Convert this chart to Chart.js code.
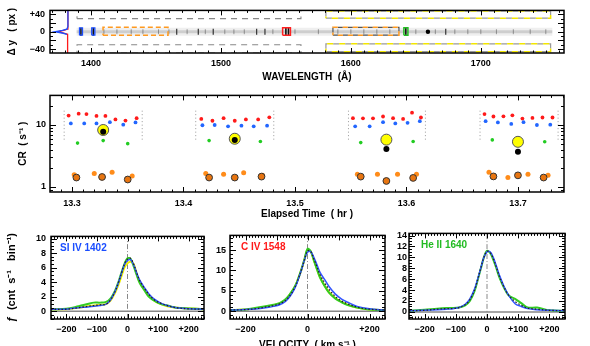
<!DOCTYPE html>
<html>
<head>
<meta charset="utf-8">
<script src="https://cdn.jsdelivr.net/npm/chart.js@4.4.1/dist/chart.umd.min.js"></script>
<style>
  html, body { margin: 0; padding: 0; background: #fff; overflow: hidden; }
  body { width: 590px; height: 346px; position: relative; }
  canvas { position: absolute; }
</style>
</head>
<body>
<canvas id="spec" width="590" height="86" style="left:0;top:0"></canvas>
<canvas id="lc" width="590" height="134" style="left:0;top:86px"></canvas>
<canvas id="p1" width="210" height="128" style="left:0;top:226px"></canvas>
<canvas id="p2" width="180" height="128" style="left:210px;top:226px"></canvas>
<canvas id="p3" width="200" height="128" style="left:390px;top:226px"></canvas>
<script>
// ---------- top panel: 2D spectrum (Δy vs wavelength)
const wlRange = [1368.5, 1764];
const dyRange = [-49, 49];
const wlTicks = [1400, 1500, 1600, 1700];
const dyTicks = [-40, 0, 40];
const bandWl = [1389, 1755];
const lineWlDark = [1392.3, 1401.8, 1550, 1552, 1642.3];
const lineWlMid = [1466, 1482.6, 1494.1, 1527.5, 1533.9, 1673];
const lineWlFaint = [1410, 1420, 1431, 1440, 1452, 1460, 1474, 1488, 1503, 1510, 1518, 1540, 1557, 1575, 1590, 1600, 1610, 1620, 1630, 1650, 1665, 1680, 1690, 1700, 1712, 1725, 1738, 1750];
const blobWl = [1659.3];
const profDy = [-49, -12, -6, -3, 0, 3, 6, 12, 49];
const profBlueWl = [1382.3, 1382.3, 1381.5, 1378, 1372.3, 1378, 1381.5, 1382.3, 1382.3];
const profRedWl = [1382.3, 1382.3, 1381.8, 1379, 1374.7, 1379, 1381.8, 1382.3, 1382.3];
// windows: [wl lo, wl hi, dy lo, dy hi]
const winSi1 = [1391.2, 1393.5, -8, 9];
const winSi2 = [1400.6, 1403.0, -8, 9];
const winCont1 = [1409.3, 1459.3, -8, 10];
const winC4 = [1547.5, 1553.5, -8, 9];
const winCont2 = [1586.2, 1637, -8, 10];
const winHe2 = [1640.8, 1643.9, -8, 9];
const bkgA = [1389.3, 1561.6, 30, 49];
const bkgALow = [1389.3, 1561.6, -49, -30];
const bkgB = [1580.8, 1753.7, 31, 47.5];
const bkgBLow = [1580.8, 1753.7, -46, -28];

// ---------- middle panel: count rate vs elapsed time
const timeRange = [13.2803, 13.7413];
const timeTicks = [13.3, 13.4, 13.5, 13.6, 13.7];
const crRange = [0.83, 30];
const crTicks = [1, 10];
const redT = [13.297, 13.306, 13.313, 13.322, 13.330, 13.339, 13.348, 13.358, 13.416, 13.426, 13.436, 13.446, 13.456, 13.467, 13.477, 13.552, 13.561, 13.570, 13.579, 13.588, 13.597, 13.605, 13.613, 13.670, 13.678, 13.687, 13.695, 13.704, 13.713, 13.722, 13.731];
const redCR = [14.2, 15.2, 15.0, 14.0, 14.0, 12.3, 11.8, 12.9, 12.5, 11.7, 12.9, 11.7, 12.3, 12.3, 13.3, 12.9, 12.8, 12.8, 13.7, 12.9, 12.5, 15.8, 13.2, 15.0, 13.7, 13.8, 14.3, 12.7, 13.0, 13.2, 13.2];
const blueT = [13.299, 13.311, 13.322, 13.334, 13.346, 13.357, 13.417, 13.428, 13.440, 13.452, 13.463, 13.475, 13.554, 13.567, 13.579, 13.590, 13.601, 13.612, 13.671, 13.682, 13.694, 13.705, 13.717, 13.729];
const blueCR = [10.6, 10.6, 10.6, 11.1, 10.1, 11.0, 9.9, 10.0, 9.5, 9.75, 9.5, 9.75, 9.5, 9.5, 11.1, 10.6, 10.85, 11.5, 11.5, 11.0, 10.4, 11.1, 10.0, 10.1];
const greenT = [13.305, 13.328, 13.350, 13.423, 13.469, 13.559, 13.606, 13.677, 13.724];
const greenCR = [5.1, 5.6, 5.0, 5.6, 5.4, 5.2, 5.4, 5.75, 5.35];
const yellowT = [13.328, 13.446, 13.582, 13.700];
const yellowCR = [8.3, 6.0, 5.8, 5.35];
const blackT = [13.328, 13.446, 13.582, 13.700];
const blackCR = [7.8, 5.75, 4.1, 3.7];
const orangeT = [13.302, 13.320, 13.336, 13.354, 13.420, 13.436, 13.454, 13.471, 13.556, 13.574, 13.592, 13.609, 13.674, 13.691, 13.709, 13.727];
const orangeCR = [1.58, 1.65, 1.73, 1.50, 1.65, 1.61, 1.70, 1.54, 1.6, 1.6, 1.6, 1.6, 1.73, 1.42, 1.61, 1.54];
const orangeDarkT = [13.304, 13.327, 13.350, 13.423, 13.446, 13.470, 13.559, 13.582, 13.606, 13.678, 13.700, 13.723];
const orangeDarkCR = [1.42, 1.45, 1.32, 1.42, 1.42, 1.47, 1.47, 1.25, 1.40, 1.48, 1.54, 1.42];
const edgeT = [13.293, 13.363, 13.411, 13.481, 13.548, 13.617, 13.666, 13.736];
const edgeCR = [5.8, 17];

// ---------- bottom panels: line profiles vs velocity
const velRange = [-250, 250];
const velTicks = [-200, -100, 0, 100, 200];
const velTicksWide = [-200, 0, 200];
const vel = [-250, -200, -160, -130, -110, -90, -70, -55, -40, -30, -20, -10, 0, 10, 20, 30, 40, 55, 70, 90, 110, 130, 160, 200, 250];
const si4Blue   = [0.3, 0.3, 0.5, 0.6, 0.7, 0.8, 1.0, 1.6, 2.8, 3.9, 5.2, 6.4, 7.0, 7.1, 6.4, 5.3, 4.3, 3.3, 2.4, 1.6, 1.1, 0.8, 0.5, 0.35, 0.3];
const si4Green  = [0.3, 0.35, 0.7, 1.0, 1.2, 1.2, 1.3, 1.8, 2.9, 4.0, 5.3, 6.5, 7.3, 7.2, 6.2, 5.0, 3.9, 2.9, 2.0, 1.4, 1.0, 0.8, 0.5, 0.4, 0.3];
const si4Yellow = [0.3, 0.3, 0.5, 0.7, 0.8, 0.9, 1.0, 1.5, 2.6, 3.6, 4.8, 6.0, 6.6, 6.8, 6.5, 5.2, 4.0, 3.0, 2.2, 1.4, 1.0, 0.7, 0.5, 0.4, 0.3];
const si4Black  = [0.3, 0.3, 0.5, 0.7, 0.8, 0.9, 1.0, 1.6, 2.8, 3.9, 5.2, 6.5, 7.2, 7.3, 6.5, 5.3, 4.2, 3.2, 2.3, 1.5, 1.1, 0.8, 0.5, 0.35, 0.3];
const c4Blue    = [0.3, 0.4, 0.6, 0.9, 1.2, 1.6, 2.5, 3.8, 5.8, 7.8, 10.0, 12.5, 14.5, 14.6, 13.3, 11.5, 9.6, 7.8, 6.0, 4.2, 3.0, 2.2, 1.2, 0.6, 0.3];
const c4Green   = [0.3, 0.4, 0.9, 1.3, 1.6, 2.0, 3.0, 4.4, 6.2, 8.0, 10.2, 12.7, 15.3, 14.8, 12.6, 10.4, 8.3, 6.2, 4.5, 3.1, 2.2, 1.5, 0.9, 0.4, 0.3];
const c4Yellow  = [0.3, 0.4, 0.8, 1.2, 1.5, 1.9, 2.9, 4.3, 6.1, 8.0, 10.1, 12.6, 15.0, 14.7, 12.6, 10.5, 8.4, 6.3, 4.6, 3.2, 2.3, 1.6, 0.9, 0.4, 0.3];
const c4Black   = [0.3, 0.4, 0.7, 1.1, 1.4, 1.8, 2.7, 4.0, 6.0, 7.9, 10.1, 12.6, 14.8, 14.7, 12.9, 11.0, 9.0, 7.0, 5.3, 3.6, 2.5, 1.8, 1.0, 0.5, 0.3];
const he2Blue   = [0.2, 0.3, 0.4, 0.5, 0.6, 0.8, 1.4, 2.4, 4.2, 6.0, 8.0, 10.0, 11.0, 11.0, 10.0, 8.4, 6.7, 4.6, 3.0, 1.5, 1.0, 0.6, 0.4, 0.3, 0.2];
const he2Green  = [0.2, 0.4, 0.6, 0.7, 0.7, 0.8, 1.2, 2.0, 3.8, 5.8, 7.9, 10.0, 11.2, 10.8, 9.6, 8.0, 6.3, 4.4, 3.0, 2.4, 1.6, 0.8, 0.8, 0.3, 0.2];
const he2Black  = [0.2, 0.3, 0.5, 0.6, 0.6, 0.8, 1.3, 2.2, 4.0, 5.9, 8.0, 10.0, 11.1, 10.9, 9.8, 8.2, 6.5, 4.5, 3.0, 1.9, 1.2, 0.7, 0.5, 0.3, 0.2];
const si4Range = [-1.05, 10.3];
const c4Range = [-1.9, 18.6];
const he2Range = [-1.3, 14.4];
const si4Ticks = [0, 2, 4, 6, 8, 10];
const c4Ticks = [0, 5, 10, 15];
const he2Ticks = [0, 2, 4, 6, 8, 10, 12, 14];

Chart.defaults.font.family = "'Liberation Sans', Arial, sans-serif";
Chart.defaults.font.weight = 'bold';
Chart.defaults.font.size = 9;
Chart.defaults.color = '#000';
Chart.defaults.animation = false;

function steps(min, max, step) {
  const out = [];
  for (let k = Math.ceil(min / step - 1e-9); k <= Math.floor(max / step + 1e-9); k++) out.push(k * step);
  return out;
}
function isMajor(v, major) {
  return Math.abs(v / major - Math.round(v / major)) < 1e-6;
}
function logSteps(min, max) {
  const out = [];
  for (let n = Math.floor(Math.log10(min)); n <= Math.ceil(Math.log10(max)); n++) {
    for (let k = 1; k <= 9; k++) {
      const v = k * Math.pow(10, n);
      if (v >= min && v <= max) out.push({ v: v, major: k === 1 });
    }
  }
  return out;
}

// IDL-like frame with inward major/minor ticks on all four sides
const framePlugin = {
  id: 'frame',
  afterDatasetsDraw(chart, args, opts) {
    const { ctx, chartArea: a } = chart;
    const xs = chart.scales.x, ys = chart.scales.y;
    ctx.save();
    ctx.strokeStyle = '#000';
    ctx.lineWidth = 1;
    ctx.beginPath();
    steps(xs.min, xs.max, opts.xMinor).forEach(v => {
      const px = Math.round(xs.getPixelForValue(v)) + 0.5;
      const len = isMajor(v, opts.xMajor) ? 5 : 2.5;
      ctx.moveTo(px, a.bottom); ctx.lineTo(px, a.bottom - len);
      ctx.moveTo(px, a.top); ctx.lineTo(px, a.top + len);
    });
    const yv = opts.yLog ? logSteps(ys.min, ys.max)
      : steps(ys.min, ys.max, opts.yMinor).map(v => ({ v: v, major: isMajor(v, opts.yMajor) }));
    yv.forEach(t => {
      const py = Math.round(ys.getPixelForValue(t.v)) + 0.5;
      const len = t.major ? 6 : 3;
      ctx.moveTo(a.left, py); ctx.lineTo(a.left + len, py);
      ctx.moveTo(a.right, py); ctx.lineTo(a.right - len, py);
    });
    ctx.stroke();
    ctx.lineWidth = 1.5;
    ctx.strokeRect(a.left, a.top, a.width, a.height);
    if (opts.label) {
      ctx.fillStyle = opts.labelColor;
      ctx.font = "bold 10px 'Liberation Sans', Arial, sans-serif";
      ctx.textBaseline = 'middle';
      ctx.fillText(opts.label, a.left + opts.labelDx, a.top + 12);
    }
    ctx.restore();
  }
};

function pts(xs, ys) {
  return xs.map((x, i) => ({ x: x, y: ys[i] }));
}
function boxPts(b) {
  return [{ x: b[0], y: b[2] }, { x: b[1], y: b[2] }, { x: b[1], y: b[3] }, { x: b[0], y: b[3] }, { x: b[0], y: b[2] }];
}
function lineSet(data, color, width, dash, dashOffset) {
  return { data: data, showLine: true, borderColor: color, borderWidth: width, pointRadius: 0,
           borderDash: dash || [], borderDashOffset: dashOffset || 0, fill: false };
}
function fixedTicks(list) {
  return s => { s.ticks = list.map(v => ({ value: v })); };
}
function signed(v) {
  return v > 0 ? '+' + v : (v < 0 ? '\u2212' + Math.abs(v) : '0');
}
const titleFont = { size: 10, weight: 'bold' };
const noGrid = { display: false, drawTicks: false };

// ---------- top panel
new Chart(document.getElementById('spec'), {
  type: 'scatter',
  data: {
    datasets: [
      lineSet(pts(profBlueWl, profDy).filter(p => p.y > -10), '#1a4dff', 1.3),
      lineSet(pts(profRedWl, profDy), '#ff1a1a', 1.3),
      lineSet(boxPts(winSi1), '#1a4dff', 1.3),
      lineSet(boxPts(winSi2), '#1a4dff', 1.3),
      lineSet(boxPts(winC4), '#ff2020', 1.5),
      lineSet(boxPts(winHe2), '#22bb22', 1.5),
      lineSet(boxPts(winCont1), '#ff9a20', 1.5, [5, 3]),
      lineSet(boxPts(winCont2), '#ff9a20', 1.5, [5, 5], 5),
      lineSet(boxPts(winCont2), '#555555', 1.2, [5, 5]),
      lineSet(boxPts(bkgB), '#f2e600', 1.5, [6, 6], 6),
      lineSet(boxPts(bkgB), '#999999', 1.2, [6, 6]),
      lineSet(boxPts(bkgBLow), '#f2e600', 1.5, [6, 6], 6),
      lineSet(boxPts(bkgBLow), '#999999', 1.2, [6, 6]),
      lineSet(boxPts(bkgA), '#888888', 1.1, [6, 5]),
      lineSet(boxPts(bkgALow), '#888888', 1.1, [6, 5]),
      { data: pts(blobWl, [0]), pointStyle: 'circle', pointRadius: 2.2, backgroundColor: '#000', borderWidth: 0 },
      { data: pts(lineWlDark, lineWlDark.map(() => 0)), pointStyle: 'line', rotation: 90, pointRadius: 4,
        borderColor: '#111', borderWidth: 1.6 },
      { data: pts(lineWlMid, lineWlMid.map(() => 0)), pointStyle: 'line', rotation: 90, pointRadius: 3,
        borderColor: '#333', borderWidth: 1.2 },
      { data: pts(lineWlFaint, lineWlFaint.map(() => 0)), pointStyle: 'line', rotation: 90, pointRadius: 2.5,
        borderColor: 'rgba(0,0,0,0.35)', borderWidth: 1 },
      lineSet(pts(bandWl, [0, 0]), 'rgba(90,90,90,0.22)', 3),
      lineSet(pts(bandWl, [0, 0]), 'rgba(120,120,120,0.12)', 8)
    ]
  },
  options: {
    responsive: false,
    layout: { padding: { left: 0, right: 26, top: 2, bottom: 0 } },
    plugins: {
      legend: { display: false },
      tooltip: { enabled: false },
      frame: { xMajor: 100, xMinor: 10, yMajor: 20, yMinor: 10 }
    },
    scales: {
      x: {
        type: 'linear', min: wlRange[0], max: wlRange[1],
        grid: noGrid, border: { display: false },
        afterBuildTicks: fixedTicks(wlTicks),
        afterFit: s => { s.height = 33; },
        ticks: { padding: 5, maxRotation: 0, autoSkip: false, callback: v => String(v) },
        title: { display: true, text: 'WAVELENGTH  (Å)', font: titleFont, padding: { top: 0, bottom: 3 } }
      },
      y: {
        type: 'linear', min: dyRange[0], max: dyRange[1],
        grid: noGrid, border: { display: false },
        afterBuildTicks: fixedTicks(dyTicks),
        afterFit: s => { s.width = 50; },
        ticks: { padding: 5, autoSkip: false, callback: v => signed(v) },
        title: { display: true, text: 'Δ y   ( px )', font: titleFont, padding: { top: 6, bottom: 0 } }
      }
    }
  },
  plugins: [framePlugin]
});

// ---------- middle panel
const edgeSets = edgeT.map(t => lineSet([{ x: t, y: edgeCR[0] }, { x: t, y: edgeCR[1] }], '#999999', 1, [1, 2.5]));
new Chart(document.getElementById('lc'), {
  type: 'scatter',
  data: {
    datasets: [
      { data: pts(blackT, blackCR), pointRadius: 3, backgroundColor: '#000', borderWidth: 0 },
      { data: pts(yellowT, yellowCR), pointRadius: 5.5, backgroundColor: '#ffff00', borderColor: '#555', borderWidth: 1 },
      { data: pts(orangeDarkT, orangeDarkCR), pointRadius: 3.4, backgroundColor: '#e87510', borderColor: '#333', borderWidth: 1 },
      { data: pts(orangeT, orangeCR), pointRadius: 2.5, backgroundColor: '#ff8c1a', borderWidth: 0 },
      { data: pts(greenT, greenCR), pointRadius: 1.8, backgroundColor: '#22cc22', borderWidth: 0 },
      { data: pts(blueT, blueCR), pointRadius: 1.9, backgroundColor: '#2266ff', borderWidth: 0 },
      { data: pts(redT, redCR), pointRadius: 1.9, backgroundColor: '#ff1a1a', borderWidth: 0 }
    ].concat(edgeSets)
  },
  options: {
    responsive: false,
    layout: { padding: { left: 0, right: 26, top: 6, bottom: 0 } },
    plugins: {
      legend: { display: false },
      tooltip: { enabled: false },
      frame: { xMajor: 0.1, xMinor: 0.01, yLog: true }
    },
    scales: {
      x: {
        type: 'linear', min: timeRange[0], max: timeRange[1],
        grid: noGrid, border: { display: false },
        afterBuildTicks: fixedTicks(timeTicks),
        afterFit: s => { s.height = 28; },
        ticks: { padding: 6, maxRotation: 0, autoSkip: false, callback: v => v.toFixed(1) },
        title: { display: true, text: 'Elapsed Time  ( hr )', font: titleFont, padding: { top: 0, bottom: 0 } }
      },
      y: {
        type: 'logarithmic', min: crRange[0], max: crRange[1],
        grid: noGrid, border: { display: false },
        afterBuildTicks: fixedTicks(crTicks),
        afterFit: s => { s.width = 50; },
        ticks: { padding: 4, autoSkip: false, callback: v => String(v) },
        title: { display: true, text: 'CR  ( s⁻¹ )', font: titleFont, padding: { top: 17, bottom: 0 } }
      }
    }
  },
  plugins: [framePlugin]
});

// ---------- bottom panels
function profileChart(id, o) {
  const sets = [
    lineSet(pts(vel, o.black), '#222', 1.3, [1.5, 2]),
    lineSet(pts(vel, o.blue), '#3355ff', 1.5),
    lineSet(pts(vel, o.green), '#33cc22', 2)
  ];
  if (o.yellow) sets.push(lineSet(pts(vel, o.yellow), '#eeee00', 2));
  sets.push(lineSet([{ x: 0, y: o.range[0] }, { x: 0, y: o.range[1] }], '#888', 1, [5, 2, 1, 2]));
  sets.push(lineSet([{ x: velRange[0], y: 0 }, { x: velRange[1], y: 0 }], '#888', 1.5));
  sets.forEach(s => { s.tension = 0.35; });
  new Chart(document.getElementById(id), {
    type: 'scatter',
    data: { datasets: sets },
    options: {
      responsive: false,
      layout: { padding: { left: 0, right: o.padRight, top: 7, bottom: 0 } },
      plugins: {
        legend: { display: false },
        tooltip: { enabled: false },
        frame: { xMajor: 100, xMinor: 10, yMajor: o.yMajor, yMinor: o.yMinor,
                 label: o.label, labelColor: o.labelColor, labelDx: o.labelDx }
      },
      scales: {
        x: {
          type: 'linear', min: velRange[0], max: velRange[1],
          grid: noGrid, border: { display: false },
          afterBuildTicks: fixedTicks(o.xTicks),
          afterFit: s => { s.height = 35; },
          ticks: { padding: 5, maxRotation: 0, autoSkip: false, callback: v => signed(v) },
          title: { display: o.xTitle, text: 'VELOCITY  ( km s⁻¹ )', font: titleFont, padding: { top: 0, bottom: 3 } }
        },
        y: {
          type: 'linear', min: o.range[0], max: o.range[1],
          grid: noGrid, border: { display: false },
          afterBuildTicks: fixedTicks(o.yTicks),
          afterFit: s => { s.width = o.yWidth; },
          ticks: { padding: o.yPad, autoSkip: false, callback: v => String(v) },
          title: { display: o.yTitle, text: 'ƒ  (cnt  s⁻¹   bin⁻¹)', font: { size: 11, weight: 'bold' }, padding: { top: 5, bottom: 0 } }
        }
      }
    },
    plugins: [framePlugin]
  });
}

profileChart('p1', { blue: si4Blue, green: si4Green, yellow: si4Yellow, black: si4Black,
  range: si4Range, yTicks: si4Ticks, yMajor: 2, yMinor: 0.5, xTicks: velTicks,
  yWidth: 51, yPad: 5, padRight: 6, yTitle: true, xTitle: false,
  label: 'SI IV 1402', labelColor: '#1a4dff', labelDx: 9 });
profileChart('p2', { blue: c4Blue, green: c4Green, yellow: c4Yellow, black: c4Black,
  range: c4Range, yTicks: c4Ticks, yMajor: 5, yMinor: 1, xTicks: velTicksWide,
  yWidth: 20, yPad: 4, padRight: 5, yTitle: false, xTitle: true,
  label: 'C IV 1548', labelColor: '#ff1a1a', labelDx: 11 });
profileChart('p3', { blue: he2Blue, green: he2Green, black: he2Black,
  range: he2Range, yTicks: he2Ticks, yMajor: 2, yMinor: 0.5, xTicks: velTicks,
  yWidth: 19, yPad: 2, padRight: 25, yTitle: false, xTitle: false,
  label: 'He II 1640', labelColor: '#22bb22', labelDx: 12 });
</script>
</body>
</html>
